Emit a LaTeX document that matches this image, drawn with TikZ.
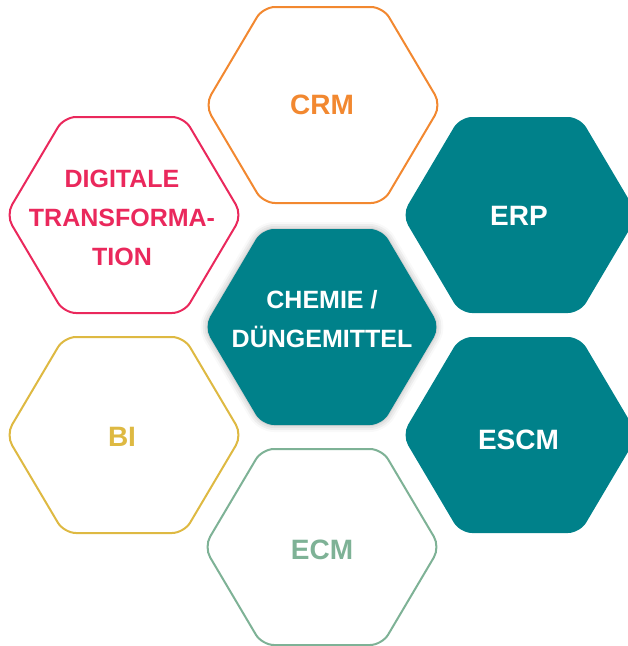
\documentclass[tikz,border=0pt]{standalone}
\usepackage{fontspec}
\setmainfont{Liberation Sans}
\usetikzlibrary{shadows.blur}
\definecolor{orng}{RGB}{242,136,48}
\definecolor{pnk}{RGB}{234,40,92}
\definecolor{ylw}{RGB}{222,185,66}
\definecolor{grn}{RGB}{126,178,150}
\definecolor{tealc}{RGB}{0,129,138}
\tikzset{
  hexline/.style={line width=2pt, rounded corners=12pt, fill=white},
  hexfill/.style={fill=tealc, rounded corners=12pt},
  lbl/.style={font=\bfseries\fontsize{28}{28}\selectfont, anchor=base, inner sep=0pt},
  lbltwo/.style={font=\bfseries\fontsize{25}{39}\selectfont, align=center, inner sep=0pt},
}
\newcommand\hexat[2]{\path[#2, shift={(#1)}] (-118,0) -- (-60,-98) -- (60,-98) -- (118,0) -- (60,98) -- (-60,98) -- cycle;}
\begin{document}
\begin{tikzpicture}[x=1pt,y=-1pt]
\useasboundingbox (0,0) rectangle (628,646);
\clip (0,0) rectangle (628,646);
\hexat{323,105}{hexline, draw=orng}
\hexat{124,215}{hexline, draw=pnk}
\hexat{124,435}{hexline, draw=ylw}
\hexat{322,547}{hexline, draw=grn}
\hexat{520,215}{hexfill}
\hexat{520,435}{hexfill}
\hexat{322,327}{hexfill, blur shadow={shadow xshift=0pt, shadow yshift=0pt, shadow blur radius=7pt, shadow opacity=35}}
\node[lbl, text=orng] (crm) at (322,114.3) {CRM};
\node[lbl, text=white] (erp) at (519,225.7) {ERP};
\node[lbl, text=white] (escm) at (518.5,449.3) {ESCM};
\node[lbl, text=ylw] (bi) at (122,446) {BI};
\node[lbl, text=grn] (ecm) at (322,559.3) {ECM};
\node[lbltwo, text=pnk] (dig) at (122,218.2) {DIGITALE\\TRANSFORMA-\\TION};
\node[lbltwo, text=white] (chem) at (322,318.8) {CHEMIE /\\DÜNGEMITTEL};
\end{tikzpicture}
\end{document}
